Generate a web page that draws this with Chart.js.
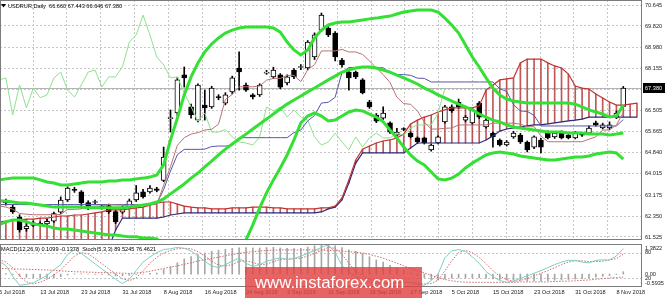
<!DOCTYPE html>
<html>
<head>
<meta charset="utf-8">
<script src="https://cdn.jsdelivr.net/npm/chart.js@4.4.1/dist/chart.umd.min.js"></script>
<style>
  html, body { margin: 0; padding: 0; background: #fff; }
  #wrap { position: relative; width: 665px; height: 298px; overflow: hidden; background: #fff; }
  canvas { position: absolute; left: 0; }
  #main { top: 0; }
  #sub { top: 241px; }
  #wm { position: absolute; left: 245px; top: 267px; width: 177px; height: 31px;
        background: rgba(224, 66, 66, 0.82); color: #fff; box-sizing: border-box; padding-left: 10px;
        font: 16.8px "Liberation Sans", Arial, sans-serif; line-height: 31px; }
</style>
</head>
<body>
<div id="wrap">
  <canvas id="main" width="665" height="241"></canvas>
  <canvas id="sub" width="665" height="57"></canvas>
  <div id="wm">www.instaforex.com</div>
</div>
<script>
// daily bars, 5 Jul 2018 (bar 0) .. 9 Nov 2018 (bar 91)
const labelBars = [0, 6, 12, 18, 24, 30, 36, 42, 48, 54, 60, 66, 72, 78, 84, 90];
const dateLabels = ["5 Jul 2018", "13 Jul 2018", "23 Jul 2018", "31 Jul 2018", "8 Aug 2018", "16 Aug 2018",
  "24 Aug 2018", "3 Sep 2018", "11 Sep 2018", "19 Sep 2018", "27 Sep 2018", "5 Oct 2018",
  "15 Oct 2018", "23 Oct 2018", "31 Oct 2018", "8 Nov 2018"];
const priceTicks = [70.645, 69.820, 68.980, 68.155, 67.330, 66.505, 65.665, 64.840, 64.015, 63.175, 62.350, 61.525];

const opens = [
  62.98, 62.86, 62.70, 62.31, 61.85, 61.98, 62.06, 62.04, 62.15, 62.50,
  62.98, 63.40, 63.30, 62.88, 62.88, 62.74, 62.76, 62.52, 62.50, 62.70,
  62.98, 63.30, 63.30, 63.42, 63.75, 66.18, 66.40, 67.90, 66.64, 66.12,
  66.71, 66.64, 67.05, 66.79, 67.23, 68.17, 67.50, 67.11, 67.11, 67.97,
  67.82, 67.90, 67.58, 68.09, 68.19, 68.17, 68.60, 69.66, 69.74, 69.54,
  68.48, 68.01, 68.01, 67.70, 66.83, 66.32, 66.20, 66.01, 65.53, 65.77,
  65.61, 65.42, 65.42, 64.95, 65.22, 66.05, 66.64, 66.83, 66.12, 66.01,
  66.79, 65.85, 65.61, 65.34, 65.14, 65.46, 65.53, 65.26, 65.06, 65.34,
  65.65, 65.46, 65.65, 65.53, 65.42, 65.55, 65.61, 66.01, 65.81, 65.81,
  66.24, 66.660];
const highs = [
  63.08, 63.02, 62.78, 62.40, 62.05, 62.15, 62.12, 62.22, 62.50, 63.10,
  63.50, 63.48, 63.35, 62.95, 62.98, 62.78, 62.82, 62.58, 62.75, 63.02,
  63.55, 63.40, 63.55, 63.48, 65.06, 66.52, 67.80, 68.21, 66.75, 67.55,
  67.30, 67.45, 67.12, 67.20, 67.85, 68.80, 67.58, 67.16, 67.55, 68.08,
  68.20, 67.95, 67.90, 68.15, 68.30, 69.25, 69.55, 70.33, 69.80, 69.60,
  68.55, 68.05, 68.05, 67.75, 66.90, 66.38, 66.64, 66.05, 65.80, 65.82,
  65.66, 65.46, 65.45, 65.18, 65.50, 66.70, 66.72, 66.95, 66.30, 66.58,
  66.85, 66.18, 65.65, 65.38, 65.32, 65.68, 65.60, 65.30, 65.50, 65.40,
  65.70, 65.66, 65.70, 65.58, 65.68, 65.60, 65.90, 66.08, 66.00, 66.05,
  66.48, 67.443];
const lows = [
  62.88, 62.78, 62.45, 61.72, 61.75, 61.93, 61.98, 61.98, 62.10, 62.45,
  62.92, 63.28, 62.66, 62.60, 62.84, 62.62, 62.45, 62.05, 62.45, 62.65,
  62.92, 63.05, 63.25, 63.30, 63.70, 65.65, 66.30, 67.42, 66.20, 66.05,
  66.12, 66.58, 66.92, 66.72, 67.15, 67.30, 67.25, 66.95, 67.05, 67.92,
  67.75, 67.35, 67.50, 67.75, 68.10, 68.10, 68.50, 69.60, 69.40, 68.45,
  68.20, 67.30, 67.75, 67.15, 66.58, 66.02, 66.15, 65.60, 65.48, 65.70,
  65.42, 65.20, 65.18, 64.90, 65.18, 66.00, 66.42, 66.58, 66.05, 65.95,
  66.18, 65.80, 65.06, 65.10, 65.10, 65.40, 65.20, 64.87, 65.00, 64.83,
  65.38, 65.40, 65.38, 65.38, 65.38, 65.48, 65.55, 65.88, 65.77, 65.75,
  66.18, 66.646];
const closes = [
  62.95, 62.95, 62.51, 61.80, 61.95, 62.08, 62.03, 62.14, 62.45, 62.98,
  63.45, 63.36, 62.86, 62.66, 62.92, 62.70, 62.52, 62.12, 62.66, 62.95,
  63.26, 63.10, 63.45, 63.36, 64.67, 66.22, 67.70, 67.78, 66.32, 67.50,
  66.60, 67.38, 67.00, 67.11, 67.78, 68.01, 67.30, 67.03, 67.50, 68.01,
  68.09, 67.42, 67.82, 67.82, 68.22, 69.19, 69.47, 70.25, 69.47, 68.60,
  68.29, 67.78, 67.82, 67.19, 66.64, 66.08, 66.40, 65.65, 65.65, 65.75,
  65.46, 65.26, 65.22, 65.14, 65.46, 66.64, 66.48, 66.64, 66.24, 66.52,
  66.24, 66.12, 65.46, 65.14, 65.26, 65.61, 65.26, 64.95, 65.46, 65.06,
  65.42, 65.61, 65.42, 65.42, 65.61, 65.53, 65.81, 65.93, 65.93, 65.93,
  66.40, 67.380];

// Bollinger bands
const upperBand = [
  63.77, 63.81, 63.84, 63.84, 63.84, 63.84, 63.77, 63.69, 63.65, 63.57,
  63.57, 63.61, 63.65, 63.69, 63.69, 63.69, 63.73, 63.73, 63.77, 63.77,
  63.81, 63.84, 63.88, 63.96, 64.36, 65.34, 66.20, 67.11, 67.82, 68.37,
  68.80, 69.11, 69.35, 69.54, 69.66, 69.74, 69.78, 69.78, 69.78, 69.78,
  69.74, 69.58, 69.19, 68.88, 68.68, 68.88, 69.35, 69.66, 69.86, 69.94,
  69.98, 69.98, 70.02, 70.06, 70.10, 70.13, 70.17, 70.21, 70.29, 70.37,
  70.41, 70.45, 70.45, 70.45, 70.37, 70.13, 69.86, 69.54, 69.07, 68.60,
  68.21, 67.78, 67.38, 67.11, 66.95, 66.87, 66.83, 66.79, 66.79, 66.79,
  66.79, 66.79, 66.79, 66.79, 66.75, 66.64, 66.52, 66.44, 66.36, 66.24,
  66.28, 66.71];
const midBand = [
  62.94, 62.94, 62.90, 62.86, 62.86, 62.82, 62.78, 62.74, 62.70, 62.70,
  62.70, 62.70, 62.70, 62.67, 62.67, 62.67, 62.67, 62.67, 62.67, 62.70,
  62.74, 62.78, 62.82, 62.90, 63.02, 63.22, 63.41, 63.61, 63.84, 64.04,
  64.28, 64.51, 64.75, 64.98, 65.18, 65.38, 65.57, 65.77, 65.97, 66.16,
  66.36, 66.56, 66.75, 66.91, 67.07, 67.23, 67.38, 67.54, 67.70, 67.85,
  68.01, 68.09, 68.17, 68.21, 68.21, 68.17, 68.09, 68.01, 67.89, 67.78,
  67.66, 67.54, 67.38, 67.26, 67.11, 66.99, 66.87, 66.75, 66.64, 66.52,
  66.36, 66.24, 66.12, 66.05, 65.93, 65.85, 65.81, 65.77, 65.73, 65.69,
  65.65, 65.65, 65.65, 65.61, 65.61, 65.61, 65.57, 65.57, 65.57, 65.54,
  65.57, 65.61];
const lowerBand = [
  62.00, 62.12, 62.19, 62.19, 62.12, 62.04, 62.00, 61.96, 61.88, 61.84,
  61.84, 61.80, 61.76, 61.72, 61.68, 61.64, 61.60, 61.60, 61.56, 61.53,
  61.53, 61.49, 61.49, 61.45, 61.25, 60.97, 60.50, 60.20, 60.00, 59.90,
  59.90, 60.00, 60.20, 60.50, 60.80, 61.10, 61.41, 62.00, 62.67, 63.26,
  63.77, 64.24, 64.75, 65.34, 66.01, 66.28, 66.40, 66.28, 66.09, 66.12,
  66.28, 66.44, 66.52, 66.48, 66.36, 66.24, 66.05, 65.73, 65.42, 65.06,
  64.75, 64.51, 64.36, 64.08, 63.81, 63.77, 63.84, 64.00, 64.24, 64.43,
  64.59, 64.75, 64.83, 64.87, 64.83, 64.79, 64.71, 64.67, 64.63, 64.59,
  64.55, 64.55, 64.59, 64.63, 64.67, 64.67, 64.71, 64.79, 64.83, 64.87,
  64.83, 64.59];

// Ichimoku
const tenkan = [
  62.75, 62.70, 62.62, 62.45, 62.42, 62.40, 62.40, 62.40, 62.40, 62.41,
  62.61, 62.61, 62.63, 62.73, 62.74, 62.74, 62.80, 62.78, 62.78, 62.73,
  62.80, 62.80, 62.80, 62.80, 63.56, 64.29, 65.13, 65.43, 65.57, 65.63,
  65.73, 65.76, 65.96, 66.93, 67.13, 67.43, 67.43, 67.43, 67.46, 67.69,
  67.76, 67.76, 67.88, 67.88, 67.63, 68.10, 68.30, 68.84, 68.84, 68.84,
  68.90, 68.80, 68.80, 68.70, 68.45, 68.17, 67.91, 67.60, 67.02, 66.77,
  66.74, 66.48, 66.04, 65.77, 65.77, 65.80, 65.81, 65.93, 65.93, 65.93,
  65.93, 65.93, 66.00, 66.00, 66.00, 66.00, 65.96, 65.86, 65.86, 65.50,
  65.27, 65.27, 65.27, 65.27, 65.27, 65.27, 65.37, 65.46, 65.73, 65.73,
  65.93, 66.41];
const kijun = [
  62.80, 62.80, 62.80, 62.80, 62.80, 62.80, 62.80, 62.80, 62.80, 62.80,
  62.80, 62.80, 62.80, 62.80, 62.80, 62.80, 62.80, 62.80, 62.80, 62.80,
  62.80, 62.80, 62.80, 62.85, 63.39, 64.12, 64.76, 64.97, 64.97, 64.97,
  64.98, 65.08, 65.10, 65.10, 65.13, 65.43, 65.43, 65.43, 65.43, 65.43,
  65.43, 65.43, 65.43, 65.63, 65.73, 66.09, 66.30, 66.79, 66.82, 67.02,
  67.99, 68.19, 68.19, 68.19, 68.19, 68.18, 68.18, 67.97, 67.91, 67.91,
  67.88, 67.77, 67.76, 67.62, 67.62, 67.62, 67.62, 67.62, 67.62, 67.62,
  67.62, 67.62, 67.62, 67.35, 67.25, 66.73, 66.48, 66.46, 66.31, 65.89,
  65.89, 65.89, 65.89, 65.89, 65.89, 65.89, 65.89, 65.89, 65.89, 65.89,
  65.89, 66.14];
// cloud runs two bars past the last candle
const spanA = [
  62.12, 62.15, 62.19, 62.19, 62.23, 62.23, 62.27, 62.27, 62.31, 62.35,
  62.35, 62.39, 62.39, 62.43, 62.47, 62.51, 62.59, 62.59, 62.59, 62.63,
  62.67, 62.70, 62.78, 62.86, 62.90, 62.90, 62.82, 62.74, 62.70, 62.67,
  62.67, 62.63, 62.63, 62.63, 62.67, 62.67, 62.67, 62.70, 62.70, 62.70,
  62.67, 62.67, 62.63, 62.63, 62.63, 62.63, 62.63, 62.67, 62.67, 62.74,
  63.06, 63.77, 64.55, 64.98, 65.10, 65.22, 65.30, 65.34, 65.42, 65.57,
  65.97, 66.12, 66.24, 66.32, 66.44, 66.52, 66.60, 66.60, 66.60, 66.60,
  66.68, 67.30, 67.50, 67.70, 67.74, 67.78, 68.37, 68.52, 68.52, 68.52,
  68.37, 68.25, 68.17, 67.93, 67.46, 67.38, 67.34, 67.15, 66.99, 66.83,
  66.71, 66.71, 66.75, 66.79];
const spanB = [
  60.90, 60.90, 60.90, 60.90, 60.90, 60.90, 60.90, 60.90, 60.90, 60.90,
  60.90, 60.90, 60.90, 60.90, 60.90, 60.90, 61.10, 61.80, 62.27, 62.27,
  62.27, 62.27, 62.27, 62.27, 62.31, 62.39, 62.43, 62.47, 62.47, 62.47,
  62.47, 62.47, 62.47, 62.47, 62.47, 62.47, 62.47, 62.47, 62.47, 62.47,
  62.47, 62.47, 62.47, 62.47, 62.47, 62.47, 62.47, 62.51, 62.63, 62.70,
  62.98, 63.65, 64.43, 64.83, 64.83, 64.83, 64.83, 64.83, 64.83, 64.83,
  65.02, 65.22, 65.22, 65.22, 65.22, 65.22, 65.22, 65.22, 65.22, 65.22,
  65.22, 65.34, 65.50, 65.69, 65.77, 65.81, 65.85, 65.89, 65.93, 65.93,
  65.97, 66.01, 66.05, 66.09, 66.12, 66.16, 66.24, 66.24, 66.24, 66.24,
  66.24, 66.24, 66.24, 66.24];
const chikouShift = 26;

// MACD(12,26,9) and Stoch(5,3,3)
const macdMain = [
  0.05, 0.02, -0.02, -0.10, -0.15, -0.17, -0.19, -0.19, -0.18, -0.12,
  -0.04, 0.01, 0.01, 0.00, -0.01, -0.02, -0.04, -0.08, -0.08, -0.06,
  -0.02, 0.00, 0.03, 0.05, 0.21, 0.34, 0.52, 0.70, 0.80, 0.90,
  0.97, 1.05, 1.10, 1.14, 1.18, 1.21, 1.22, 1.20, 1.20, 1.22,
  1.23, 1.20, 1.18, 1.17, 1.18, 1.24, 1.30, 1.38, 1.36, 1.30,
  1.22, 1.12, 1.05, 0.94, 0.80, 0.65, 0.55, 0.40, 0.28, 0.18,
  0.06, -0.06, -0.16, -0.25, -0.28, -0.22, -0.19, -0.17, -0.18, -0.18,
  -0.17, -0.19, -0.22, -0.25, -0.27, -0.27, -0.28, -0.32, -0.31, -0.32,
  -0.30, -0.28, -0.27, -0.25, -0.23, -0.21, -0.18, -0.14, -0.10, -0.07,
  -0.02, 0.1099];
const macdSignal = [
  0.26, 0.25, 0.24, 0.23, 0.22, 0.21, 0.20, 0.19, 0.17, 0.15,
  0.13, 0.11, 0.10, 0.09, 0.08, 0.07, 0.06, 0.05, 0.04, 0.03,
  0.05, 0.08, 0.13, 0.19, 0.26, 0.32, 0.38, 0.45, 0.52, 0.60,
  0.66, 0.72, 0.78, 0.84, 0.90, 0.95, 1.00, 1.03, 1.06, 1.08,
  1.10, 1.11, 1.11, 1.11, 1.11, 1.11, 1.10, 1.10, 1.09, 1.08,
  1.06, 1.03, 1.00, 0.97, 0.90, 0.82, 0.73, 0.62, 0.50, 0.38,
  0.26, 0.15, 0.05, -0.06, -0.16, -0.25, -0.31, -0.35, -0.37, -0.38,
  -0.38, -0.38, -0.38, -0.38, -0.38, -0.38, -0.36, -0.36, -0.36, -0.36,
  -0.36, -0.34, -0.33, -0.32, -0.31, -0.29, -0.27, -0.24, -0.21, -0.18,
  -0.16, -0.1378];
const stochK = [
  60, 50, 25, 4, 6, 10, 18, 27, 40, 52,
  76, 87, 78, 66, 54, 42, 30, 18, 8, 18,
  38, 58, 70, 80, 87, 89, 92, 90, 84, 72,
  60, 49, 45, 52, 60, 67, 55, 48, 52, 60,
  64, 68, 64, 66, 72, 78, 85, 92, 98, 80,
  50, 35, 25, 18, 12, 8, 10, 8, 10, 12,
  10, 6, 4, 15, 30, 68, 84, 87, 83, 70,
  55, 36, 24, 15, 11, 14, 20, 26, 32, 38,
  45, 52, 58, 62, 62, 58, 56, 62, 63, 63,
  72, 89.52];
const stochD = [
  64, 58, 45, 26, 12, 7, 11, 18, 28, 40,
  56, 72, 80, 77, 66, 54, 42, 30, 19, 15,
  21, 38, 55, 69, 79, 85, 89, 90, 89, 82,
  72, 60, 51, 49, 52, 60, 61, 57, 52, 53,
  59, 64, 65, 66, 67, 72, 78, 85, 92, 90,
  76, 55, 37, 26, 18, 13, 10, 9, 9, 10,
  11, 9, 7, 8, 16, 38, 61, 80, 85, 80,
  69, 54, 38, 25, 17, 13, 15, 20, 26, 32,
  38, 45, 52, 58, 61, 61, 59, 59, 60, 63,
  66, 76.46];

const X_MIN = 0.146, X_MAX = 93.73;
const Y_MIN = 61.407, Y_MAX = 70.842;
const FAMILY = '"Liberation Sans", Arial, sans-serif';
const FONT = '5.6px ' + FAMILY;
const GRID = '#c6c6c6';
const BAND = '#33e033';

const pts = arr => arr.map((v, i) => ({ x: i, y: v }));
const last = closes.length - 1;

// keep chart areas exactly where the panels sit (no automatic label padding)
const noPad = s => { s.paddingTop = 0; s.paddingBottom = 0; s.paddingLeft = 0; s.paddingRight = 0; };

function line(data, color, width, order, extra) {
  return Object.assign({ type: 'line', data: pts(data), borderColor: color, borderWidth: width,
    pointRadius: 0, order: order }, extra || {});
}

const mainDecor = {
  id: 'mainDecor',
  beforeDatasetsDraw(chart) {
    const { ctx, chartArea: a, scales: { y } } = chart;
    const py = Math.round(y.getPixelForValue(closes[last])) + 0.5;
    ctx.save();
    ctx.strokeStyle = '#b4b4b4';
    ctx.lineWidth = 1;
    ctx.beginPath(); ctx.moveTo(a.left, py); ctx.lineTo(a.right, py); ctx.stroke();
    ctx.restore();
  },
  afterDraw(chart) {
    const { ctx, chartArea: a, scales: { y } } = chart;
    ctx.save();
    ctx.strokeStyle = '#7c7c7c';
    ctx.lineWidth = 1;
    ctx.strokeRect(a.left + 0.5, a.top + 0.5, a.right - a.left - 1, a.bottom - a.top - 1);
    // current price tag
    const py = Math.round(y.getPixelForValue(closes[last]));
    ctx.fillStyle = '#000';
    ctx.fillRect(a.right + 1, py - 5, 23, 10);
    ctx.font = FONT;
    ctx.textBaseline = 'middle';
    ctx.fillStyle = '#fff';
    ctx.fillText(closes[last].toFixed(3), a.right + 3, py);
    // symbol line
    ctx.fillStyle = '#000';
    ctx.beginPath(); ctx.moveTo(1, 4); ctx.lineTo(6, 4); ctx.lineTo(3.5, 7.5); ctx.closePath(); ctx.fill();
    const head = 'USDRUR,Daily  ' + [opens[last], highs[last], lows[last], closes[last]].map(v => v.toFixed(3)).join(' ');
    ctx.fillText(head, 8, 6);
    ctx.restore();
  }
};

new Chart(document.getElementById('main'), {
  type: 'line',
  data: {
    datasets: [
      line(upperBand, BAND, 3, 1),
      line(midBand, BAND, 3, 1),
      line(lowerBand, BAND, 3, 1),
      line(tenkan, '#b87474', 1, 2),
      line(kijun, '#5656a8', 1, 2),
      Object.assign(line([], '#8fe08f', 1, 2), {
        data: closes.map((c, i) => ({ x: i - chikouShift, y: c })).filter(p => p.x >= -1)
      }),
      line(spanA, '#c43232', 1.2, 3),
      line(spanB, '#2a2a7c', 1.2, 3),
      {
        type: 'bar', order: 4, grouped: false, barThickness: 5, minBarLength: 1,
        data: opens.map((o, i) => ({ x: i, y: [Math.min(o, closes[i]), Math.max(o, closes[i])] })),
        backgroundColor: opens.map((o, i) => closes[i] >= o ? '#ffffff' : '#000000'),
        borderColor: '#000', borderWidth: 1, borderSkipped: false
      },
      {
        type: 'bar', order: 5, grouped: false, barThickness: 1,
        data: lows.map((l, i) => ({ x: i, y: [l, highs[i]] })),
        backgroundColor: '#000'
      },
      {
        type: 'bar', order: 6, grouped: false, barThickness: 1,
        data: spanA.map((a, i) => ({ x: i, y: [spanB[i], a] })),
        backgroundColor: 'rgba(182,58,58,0.85)'
      }
    ]
  },
  options: {
    responsive: false, animation: false, devicePixelRatio: 1,
    layout: { padding: 0, autoPadding: false },
    plugins: { legend: { display: false }, tooltip: { enabled: false } },
    elements: { line: { tension: 0 }, point: { radius: 0 } },
    scales: {
      x: {
        type: 'linear', min: X_MIN, max: X_MAX, offset: false,
        afterBuildTicks: s => {
          const t = [];
          for (let v = 4.96; v < X_MAX; v += 4.927) t.push({ value: v });
          s.ticks = t;
        },
        ticks: { display: false },
        grid: { color: GRID, drawTicks: false, offset: false },
        border: { display: false, dash: [2, 2] },
        afterFit: s => { s.height = 1; noPad(s); }
      },
      y: {
        position: 'right', min: Y_MIN, max: Y_MAX,
        afterBuildTicks: s => { s.ticks = priceTicks.map(v => ({ value: v })); },
        ticks: { font: { size: 5.6, family: FAMILY }, color: '#222', padding: 3,
                 callback: v => v.toFixed(3) },
        grid: { color: GRID, drawTicks: false },
        border: { display: false, dash: [2, 2] },
        afterFit: s => { s.width = 23; noPad(s); }
      }
    }
  },
  plugins: [mainDecor]
});

const subLabels = [['y', 1.3822, '1.3822'], ['ys', 80, '80'], ['y', 0, '0.00'], ['ys', 20, '20'], ['y', -0.5935, '-0.5935']];

const subDecor = {
  id: 'subDecor',
  beforeDatasetsDraw(chart) {
    const { ctx, chartArea: a, scales } = chart;
    ctx.save();
    ctx.strokeStyle = GRID;
    ctx.lineWidth = 1;
    ctx.setLineDash([2, 2]);
    [80, 20].forEach(v => {
      const py = Math.round(scales.ys.getPixelForValue(v)) + 0.5;
      ctx.beginPath(); ctx.moveTo(a.left, py); ctx.lineTo(a.right, py); ctx.stroke();
    });
    ctx.restore();
  },
  afterDraw(chart) {
    const { ctx, chartArea: a, scales } = chart;
    ctx.save();
    ctx.strokeStyle = '#7c7c7c';
    ctx.lineWidth = 1;
    ctx.strokeRect(a.left + 0.5, a.top + 0.5, a.right - a.left - 1, a.bottom - a.top - 1);
    ctx.font = FONT;
    ctx.textBaseline = 'middle';
    ctx.fillStyle = '#222';
    subLabels.forEach(([axis, v, txt]) => {
      let py = scales[axis].getPixelForValue(v);
      py = Math.min(Math.max(py, a.top + 4), a.bottom - 4);
      ctx.fillText(txt, a.right + 3, py);
    });
    // date labels start at their bar, as on the terminal's time scale
    ctx.textAlign = 'left';
    labelBars.forEach((b, k) => {
      ctx.fillText(dateLabels[k], scales.x.getPixelForValue(b), a.bottom + 5.5);
    });
    ctx.fillStyle = '#000';
    ctx.fillText('MACD(12,26,9) 0.1099 -0.1378  Stoch(5,3,3) 89.5245 76.4621', 1, a.top + 5);
    ctx.restore();
  }
};

new Chart(document.getElementById('sub'), {
  type: 'line',
  data: {
    datasets: [
      Object.assign(line(stochK, '#79d0c4', 1, 1), { yAxisID: 'ys' }),
      Object.assign(line(stochD, '#d06868', 1, 2), { yAxisID: 'ys', borderDash: [1.5, 1.5] }),
      Object.assign(line(macdSignal, '#d06868', 1, 3), { yAxisID: 'y', borderDash: [1.5, 1.5] }),
      {
        type: 'bar', order: 4, grouped: false, barThickness: 1, yAxisID: 'y',
        data: pts(macdMain), backgroundColor: '#a6a6a6'
      }
    ]
  },
  options: {
    responsive: false, animation: false, devicePixelRatio: 1,
    layout: { padding: { top: 3 }, autoPadding: false },
    plugins: { legend: { display: false }, tooltip: { enabled: false } },
    elements: { line: { tension: 0 }, point: { radius: 0 } },
    scales: {
      x: {
        type: 'linear', min: X_MIN, max: X_MAX, offset: false,
        ticks: { display: false },
        grid: { display: false, drawTicks: false, offset: false },
        border: { display: false },
        afterFit: s => { s.height = 11; noPad(s); }
      },
      y: {
        position: 'right', min: -0.5935, max: 1.3822,
        ticks: { display: false },
        grid: { display: false },
        border: { display: false },
        afterFit: s => { s.width = 23; noPad(s); }
      },
      ys: { display: false, min: 0, max: 100 }
    }
  },
  plugins: [subDecor]
});
</script>
</body>
</html>
